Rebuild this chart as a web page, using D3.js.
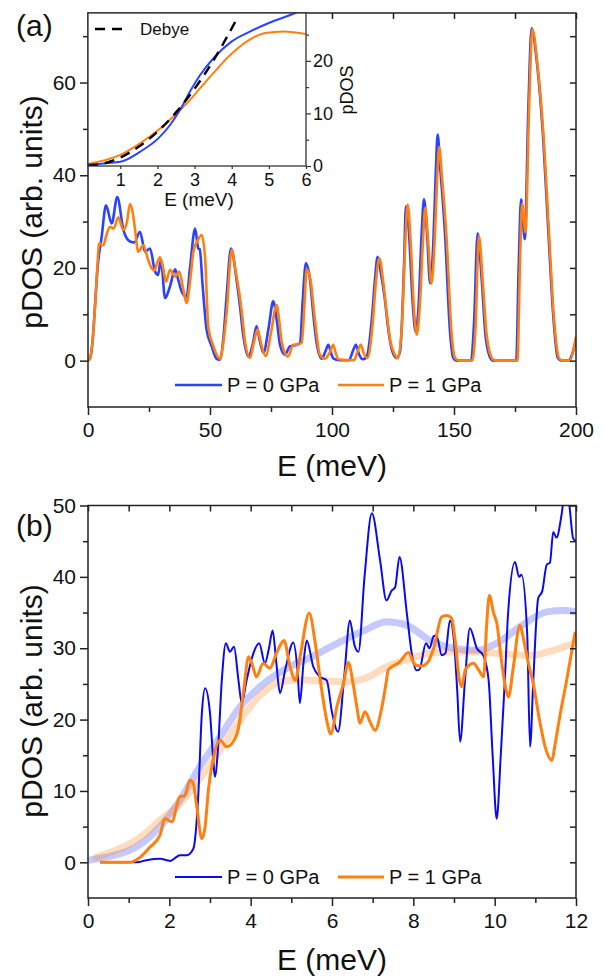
<!DOCTYPE html>
<html>
<head>
<meta charset="utf-8">
<script src="https://cdn.jsdelivr.net/npm/d3@7"></script>
<style>
  body { margin: 0; background: #fff; }
  svg text { font-family: "Liberation Sans", Arial, sans-serif; fill: #111; }
  .tick line { stroke: #222; stroke-width: 1.5; }
</style>
</head>
<body>
<div id="chart"></div>
<script>
// ---------- data ----------
const seriesNames = ["P = 0 GPa", "P = 1 GPa"];

// panel (a): full range 0-200 meV  [E, pDOS]
const fullP0 = [[0,0],[1,0.8],[2,5],[3,13],[4,20.5],[5.5,26.3],[7.4,33.5],[9.7,29.6],[12,35.3],[14.5,28.2],[17.2,25.7],[19,25.5],[21.3,27.8],[23.4,23.5],[25.4,24.2],[27.5,19.2],[28.7,18.5],[29.9,21.7],[31.6,13.5],[33.6,16],[35.7,19.7],[37,17.4],[38.4,14.9],[40.4,13.8],[41.8,20],[43.9,28.5],[45.2,24.2],[45.8,24],[47,16],[48.6,6.7],[50.7,3.1],[52.7,0.4],[54,0.2],[55.5,5],[56.8,13.8],[58.6,24.2],[60.9,17.4],[62.3,11.7],[63.7,5.2],[65.7,0.9],[67.5,3.5],[69.1,7.4],[70.5,4],[71.9,1.7],[74,7],[75.9,12.8],[77.3,9],[78.7,3.4],[80.7,1.3],[82.8,3.1],[85,3.3],[86.9,3.8],[88,13],[89.3,21],[91,17.4],[92.3,10.2],[93.7,3.8],[95.8,0.4],[97.3,2],[98.5,3.4],[99.7,1.5],[100.5,0.5],[103,0.1],[107,0.1],[108.5,2],[109.8,3.4],[111,1.5],[112.5,0.3],[114,0.6],[116.3,8.8],[117.6,17.4],[118.7,22.4],[120,19],[121.7,13.1],[123,7],[124.5,2.4],[126.5,0.6],[127.9,2],[129.5,20.3],[130.3,33.3],[131.5,28],[133,13],[134.3,6.2],[135.5,12],[136.7,27],[137.7,34.8],[139,27],[140.2,16.7],[141.5,25],[142.5,40],[143.3,48.8],[144.3,42],[146.3,27.5],[148.4,6],[149.7,0.6],[151,0],[157,0],[158.2,8],[159.7,27.5],[161.3,18],[163,5],[165.2,0.3],[166,0],[175.5,0],[176.5,20],[177.5,34.8],[179,26.2],[180.5,55],[181.8,71.7],[183.9,64.7],[186.6,47.5],[188.7,27.5],[190.7,9.5],[192.5,0.6],[194,0],[197,0],[198.5,1.5],[200,4.5]];
const fullP1 = [[0,0],[0.8,0.4],[2,5],[2.9,11.7],[3.8,20],[4.6,25.3],[6.3,24.9],[7.5,27],[9,28.9],[10.5,28.5],[12.4,30.9],[14.5,28.2],[16,30],[17.2,33.8],[18.3,32],[19.3,28.2],[20.6,23.5],[22.7,24.9],[24.5,22],[26,20],[27.3,19.5],[28.3,21],[29.5,22.3],[30.8,20],[32,17],[33.6,19.6],[35.7,18.1],[37.4,19.2],[39,15.5],[40.4,12.4],[41.8,17],[43.2,23.5],[45,26],[46.6,27.1],[48,22],[49.3,7.4],[51.4,3.1],[54.1,0.4],[55.5,4],[56.8,10.2],[58.9,23.9],[60.3,20],[61.6,16],[63,10.6],[64.4,4],[66.4,0.6],[68,4],[69.5,6.7],[71,3.5],[72.8,1],[75,6],[77.3,12],[78.5,8],[79.4,4],[82,0.9],[84.1,3.4],[86,3.5],[87.6,3.9],[88.7,12],[89.6,19.7],[91.2,17.4],[93,8.8],[95,1.3],[97,0.4],[99.3,2],[100.5,3.4],[101.6,1.5],[102.6,0.3],[109,0.1],[110.5,2],[111.8,3.4],[113,1.6],[114.5,0.6],[116.5,7],[118,17],[119.4,22.1],[121,17],[122.5,10],[124,4],[125.5,1.6],[127,0.5],[128.7,8],[130,25],[131,33.7],[132.3,25],[133.5,12],[134.7,5.6],[136,12],[137.3,26],[138.2,33],[139.5,25],[140.7,16.6],[142,25],[143,38],[143.9,46.1],[145,40],[147,26],[149,6],[150.4,0.6],[152,0],[157.5,0],[158.8,7],[160.2,26.9],[161.8,17],[163.5,5],[165.9,0.3],[167,0],[176,0],[177,20],[177.9,33.9],[179.3,27.7],[180.8,55],[182.1,71.5],[184.2,64],[187,46],[189,27],[191,9],[193,0.6],[194.5,0],[197.5,0],[199,2.5],[200,5.2]];

// inset: integrated pDOS 0-6 meV
const insetP0 = [[0.13,0.3],[1,0.8],[1.53,2.7],[2.03,5.3],[2.34,7.8],[2.61,10.7],[2.88,14.2],[3.15,17.3],[3.51,20.5],[4.0,23.7],[4.5,25.6],[5.0,27.2],[5.71,29.1],[6,30]];
const insetP1 = [[0.13,0.4],[1,2.1],[1.53,4.3],[2.03,6.9],[2.43,9.4],[2.79,11.9],[3.15,14.8],[3.51,17.7],[3.96,21.1],[4.41,23.7],[4.9,25.3],[5.4,25.6],[6,25.1]];
const debyeFit = [[0.13,0.03],[0.5,0.4],[1,1.6],[1.5,3.7],[2,6.5],[2.5,10.2],[3,14.7],[3.5,20],[4.1,27.5]];

// panel (b): low-energy zoom 0-12 meV
const lowP0 = [[0.3,0],[1.2,0],[1.44,0.3],[1.77,0.5],[2.02,0.2],[2.26,1.0],[2.43,1.0],[2.59,1.9],[2.71,9.2],[2.8,20.9],[2.88,24.4],[3.0,20.9],[3.08,14.3],[3.12,12],[3.2,16.2],[3.29,25.5],[3.39,30.7],[3.49,29.5],[3.59,30.2],[3.7,25.5],[3.78,22.3],[3.9,25.5],[4.05,29],[4.21,30.7],[4.35,27.9],[4.45,30],[4.54,32.5],[4.63,28],[4.72,23.7],[4.85,27],[5.05,30.8],[5.15,27],[5.21,22.3],[5.3,28],[5.38,31.1],[5.54,27.4],[5.7,26],[5.87,25.5],[6.0,21],[6.15,18.3],[6.3,26],[6.44,33.9],[6.55,30.5],[6.65,29.5],[6.8,40],[6.98,48.9],[7.18,42.4],[7.34,36.7],[7.47,38.1],[7.55,38.5],[7.66,42.8],[7.84,34.9],[7.96,29.3],[8.08,26.9],[8.15,27],[8.31,30.7],[8.4,30],[8.5,31.7],[8.57,31.8],[8.7,29],[8.79,29.3],[8.9,33.9],[9.0,31],[9.08,24],[9.15,16.9],[9.27,25.5],[9.39,32.8],[9.56,30],[9.72,29],[9.85,25.6],[9.95,15],[10.05,6.1],[10.15,15],[10.25,25.5],[10.33,34.9],[10.5,42.1],[10.6,40],[10.66,40.3],[10.8,32],[10.87,16.2],[10.95,25.5],[11.07,37],[11.17,38],[11.28,41.7],[11.36,42],[11.44,46.3],[11.52,45.5],[11.65,48.9],[11.73,52],[11.83,50.3],[11.93,45.4],[12,45]];
const lowP1 = [[0.3,0],[1.0,0],[1.28,0.7],[1.52,2.1],[1.77,3.8],[1.89,6.1],[2.06,5.7],[2.26,9.2],[2.37,9.3],[2.51,11.5],[2.59,11],[2.67,8],[2.8,3.3],[2.88,5],[2.96,10.1],[3.08,14.5],[3.25,17.1],[3.41,16.2],[3.57,16.9],[3.7,18.8],[3.82,23.7],[3.95,28.8],[4.05,27.5],[4.14,26],[4.31,27.9],[4.47,27.2],[4.65,29.5],[4.82,31.1],[4.97,27.4],[5.1,25.5],[5.22,29],[5.44,34.9],[5.6,30.2],[5.75,24],[5.87,19.9],[5.97,18],[6.12,21.8],[6.3,25.5],[6.4,28],[6.52,25],[6.61,21.8],[6.69,19.5],[6.81,21.1],[6.95,19.5],[7.06,18.5],[7.2,21],[7.34,25.5],[7.38,26.9],[7.5,27.5],[7.65,28],[7.88,29.4],[8.04,27.7],[8.2,27.5],[8.35,28],[8.5,30],[8.7,34.4],[8.82,34.6],[8.94,34.2],[9.03,31],[9.12,26],[9.19,24.6],[9.28,27],[9.48,27.9],[9.6,27],[9.73,26],[9.8,33],[9.87,37.4],[9.97,35],[10.06,33.3],[10.15,29],[10.24,25.4],[10.34,23.2],[10.45,27],[10.62,33.2],[10.72,31],[10.83,27.9],[10.95,25],[11.1,20],[11.25,16],[11.4,14.3],[11.5,17],[11.6,20.4],[11.77,25.5],[11.98,32.3]];
const smoothP0 = [[0,0.3],[0.5,0.8],[1.03,1.7],[1.4,3],[1.77,5],[2.26,8.7],[2.75,13.4],[3.25,17.6],[3.74,21.8],[4.23,24.6],[4.8,26.9],[5.5,28.8],[6.2,30.9],[6.8,32.5],[7.34,33.7],[7.84,33.2],[8.41,31.1],[8.98,30.0],[9.56,29.7],[10.05,30.7],[10.62,33],[11.28,35.1],[11.7,35.3],[12,35.1]];
const smoothP1 = [[0.2,0.7],[0.6,1.5],[1.03,2.6],[1.4,4],[1.77,5.9],[2.26,8.2],[2.75,11.7],[3.25,15.7],[3.74,19.9],[4.23,23.4],[4.72,25.3],[5.2,25.6],[5.8,25.4],[6.4,25.3],[6.9,26],[7.34,27.4],[7.9,28.5],[8.41,29.3],[9.23,29.5],[10.05,29.3],[10.87,29],[11.44,29.7],[12,30.8]];

// tick values
const aTicksX = [0, 50, 100, 150, 200], aMinorX = [25, 75, 125, 175];
const aTicksY = [0, 20, 40, 60], aMinorY = [10, 30, 50, 70];
const bTicksX = [0, 2, 4, 6, 8, 10, 12], bMinorX = [1, 3, 5, 7, 9, 11];
const bTicksY = [0, 10, 20, 30, 40, 50], bMinorY = [5, 15, 25, 35, 45];
const inTicksX = [1, 2, 3, 4, 5, 6];
const inTicksY = [0, 10, 20], inMinorY = [5, 15, 25];

const blueA = "#2b42ff", blueB = "#0a0aee", orange = "#ff7f0f";

document.addEventListener("DOMContentLoaded", function () {
  const W = 605, H = 978;
  const svg = d3.select("#chart").append("svg").attr("width", W).attr("height", H);

  // frame helper: draws mirrored ticks + border
  function axes(g, x, y, o) {
    const [x0, x1] = x.range(), [y0, y1] = y.range();
    const put = (fn, sc, vals, size, pos, fmt, pad) => {
      const a = g.append("g").attr("transform", pos)
        .call(fn(sc).tickValues(vals).tickSize(size).tickSizeOuter(0)
          .tickPadding(pad || 4).tickFormat(fmt ? d3.format("d") : ""));
      a.select(".domain").remove();
      a.selectAll("text").style("font-size", o.font + "px").style("font-family", "Liberation Sans, Arial, sans-serif").attr("fill", "#111");
      return a;
    };
    put(d3.axisBottom, x, o.xMaj, 8, `translate(0,${y0})`, true, 7);
    put(d3.axisBottom, x, o.xMin, 5, `translate(0,${y0})`, false);
    put(d3.axisLeft, y, o.yMaj, 8, `translate(${x0},0)`, true, 4);
    put(d3.axisLeft, y, o.yMin, 5, `translate(${x0},0)`, false);
    put(d3.axisTop, x, o.xMaj.concat(o.xMin), -6, `translate(0,${y1})`, false);
    put(d3.axisRight, y, o.yMaj.concat(o.yMin), -6, `translate(${x1},0)`, false);
    g.append("rect").attr("x", x0).attr("y", y1).attr("width", x1 - x0).attr("height", y0 - y1)
      .attr("fill", "none").attr("stroke", "#222").attr("stroke-width", 1.5);
  }

  function clip(id, x, y) {
    svg.append("clipPath").attr("id", id).append("rect")
      .attr("x", x.range()[0]).attr("y", y.range()[1])
      .attr("width", x.range()[1] - x.range()[0]).attr("height", y.range()[0] - y.range()[1]);
  }

  function legend(g, y, colors, widths) {
    const xs = [[175, 222, 227], [338, 384, 389]];
    seriesNames.forEach((name, i) => {
      g.append("line").attr("x1", xs[i][0]).attr("x2", xs[i][1]).attr("y1", y).attr("y2", y)
        .attr("stroke", colors[i]).attr("stroke-width", widths[i]);
      g.append("text").attr("x", xs[i][2]).attr("y", y + 7).style("font-size", "20px").text(name);
    });
  }

  // ================= panel (a) =================
  const xA = d3.scaleLinear().domain([0, 200]).range([88, 576]);
  const yA = d3.scaleLinear().domain([-10, 75]).range([407, 13]);
  const gA = svg.append("g");
  clip("clipA", xA, yA);
  const lineA = d3.line().x(d => xA(d[0])).y(d => yA(d[1])).curve(d3.curveMonotoneX);

  gA.append("g").attr("clip-path", "url(#clipA)").selectAll("path")
    .data([[fullP0, blueA], [fullP1, orange]]).join("path")
    .attr("d", d => lineA(d[0])).attr("fill", "none")
    .attr("stroke", d => d[1]).attr("stroke-width", 2.6).attr("stroke-linejoin", "round");

  axes(gA, xA, yA, { xMaj: aTicksX, xMin: aMinorX, yMaj: aTicksY, yMin: aMinorY, font: 21 });
  legend(gA, 385, [blueA, orange], [2.6, 2.6]);

  // inset
  const xI = d3.scaleLinear().domain([0.13, 6]).range([88, 306]);
  const yI = d3.scaleLinear().domain([0, 29.1]).range([166, 13]);
  const gI = svg.append("g");
  gI.append("rect").attr("x", 88).attr("y", 13).attr("width", 218).attr("height", 153).attr("fill", "#fff");
  clip("clipI", xI, yI);
  const lineI = d3.line().x(d => xI(d[0])).y(d => yI(d[1])).curve(d3.curveMonotoneX);
  const gIc = gI.append("g").attr("clip-path", "url(#clipI)");
  gIc.append("path").attr("d", lineI(insetP1)).attr("fill", "none").attr("stroke", orange).attr("stroke-width", 2);
  gIc.append("path").attr("d", lineI(insetP0)).attr("fill", "none").attr("stroke", blueA).attr("stroke-width", 2);
  gIc.append("path").attr("d", lineI(debyeFit)).attr("fill", "none").attr("stroke", "#000")
    .attr("stroke-width", 2.4).attr("stroke-dasharray", "10,7");

  const ib = gI.append("g").attr("transform", "translate(0,166)")
    .call(d3.axisBottom(xI).tickValues(inTicksX).tickSize(3).tickSizeOuter(0).tickPadding(4).tickFormat(d3.format("d")));
  const ir = gI.append("g").attr("transform", "translate(306,0)")
    .call(d3.axisRight(yI).tickValues(inTicksY).tickSize(5).tickSizeOuter(0).tickPadding(2).tickFormat(d3.format("d")));
  gI.append("g").attr("transform", "translate(306,0)")
    .call(d3.axisRight(yI).tickValues(inMinorY).tickSize(3).tickSizeOuter(0).tickFormat(""));
  gI.selectAll(".domain").remove();
  gI.selectAll(".tick line").style("stroke", "#333").style("stroke-width", 1.2);
  [ib, ir].forEach(a => a.selectAll("text").style("font-size", "18px").attr("fill", "#111"));
  gI.append("rect").attr("x", 88).attr("y", 13).attr("width", 218).attr("height", 153)
    .attr("fill", "none").attr("stroke", "#333").attr("stroke-width", 1.3);

  gI.append("line").attr("x1", 95).attr("x2", 129).attr("y1", 29).attr("y2", 29)
    .attr("stroke", "#000").attr("stroke-width", 2.4).attr("stroke-dasharray", "10,7");
  gI.append("text").attr("x", 140).attr("y", 35).style("font-size", "17px").text("Debye");
  gI.append("text").attr("x", 199).attr("y", 206).attr("text-anchor", "middle")
    .style("font-size", "19px").text("E (meV)");
  gI.append("text").attr("transform", "translate(353,90) rotate(-90)").attr("text-anchor", "middle")
    .style("font-size", "18px").text("pDOS");

  // ================= panel (b) =================
  const xB = d3.scaleLinear().domain([0, 12]).range([88, 576]);
  const yB = d3.scaleLinear().domain([-5, 50]).range([898, 505.5]);
  const gB = svg.append("g");
  clip("clipB", xB, yB);
  const lineB = d3.line().x(d => xB(d[0])).y(d => yB(d[1])).curve(d3.curveMonotoneX);
  const gBc = gB.append("g").attr("clip-path", "url(#clipB)");
  gBc.append("path").attr("d", lineB(smoothP0)).attr("fill", "none").attr("stroke", "#3b4cff")
    .attr("stroke-opacity", 0.3).attr("stroke-width", 7).attr("stroke-linecap", "round");
  gBc.append("path").attr("d", lineB(smoothP1)).attr("fill", "none").attr("stroke", "#ff8a25")
    .attr("stroke-opacity", 0.3).attr("stroke-width", 7).attr("stroke-linecap", "round");
  gBc.append("path").attr("d", lineB(lowP0)).attr("fill", "none").attr("stroke", blueB).attr("stroke-width", 2);
  gBc.append("path").attr("d", lineB(lowP1)).attr("fill", "none").attr("stroke", orange).attr("stroke-width", 3);

  axes(gB, xB, yB, { xMaj: bTicksX, xMin: bMinorX, yMaj: bTicksY, yMin: bMinorY, font: 21 });
  legend(gB, 877, [blueB, orange], [2, 3]);

  // titles and panel labels
  const title = (x, y, txt, rot) => svg.append("text")
    .attr("transform", `translate(${x},${y})` + (rot ? " rotate(-90)" : ""))
    .attr("text-anchor", "middle").style("font-size", "30px").text(txt);
  title(332, 476, "E (meV)");
  title(332, 970, "E (meV)");
  title(42, 212, "pDOS (arb. units)", true);
  title(42, 701, "pDOS (arb. units)", true);
  svg.append("text").attr("x", 16).attr("y", 36).style("font-size", "30px").text("(a)");
  svg.append("text").attr("x", 16).attr("y", 536).style("font-size", "30px").text("(b)");
});
</script>
</body>
</html>
